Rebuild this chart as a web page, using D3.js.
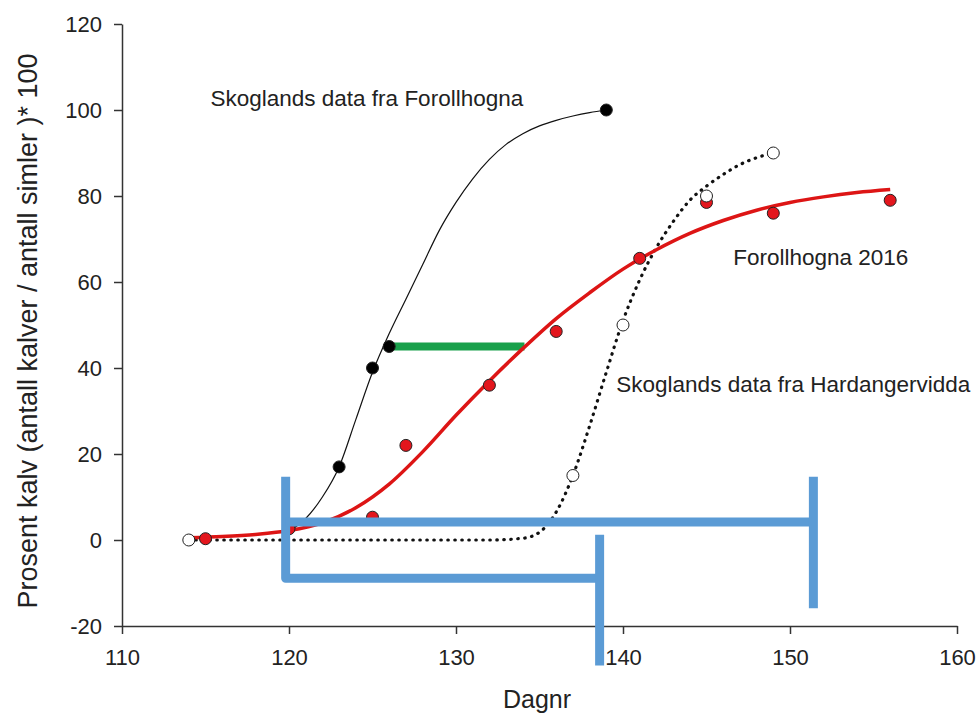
<!DOCTYPE html>
<html>
<head>
    <meta charset="utf-8">
    <title>Kalvingsforløp</title>
    <script src="https://d3js.org/d3.v7.min.js"></script>
    <style>
        body { margin: 0; background: #fff; }
        text { font-family: Arial, "Liberation Sans", sans-serif; fill: #222; }
        .axis path, .axis line { stroke: #333; stroke-width: 1.5; }
    </style>
</head>
<body>
    <div id="chart"></div>

    <script>
        // observed points (day number, percent)
        const forollhognaOld = [[123, 17], [125, 40], [126, 45], [139, 100]];
        const forollhogna2016 = [[115, 0.3], [120, 2.6], [125, 5.3], [127, 22], [132, 36], [136, 48.5],
                                 [141, 65.5], [145, 78.5], [149, 76], [156, 79]];
        const hardangervidda = [[114, 0], [137, 15], [140, 50], [145, 80], [149, 90]];

        // fitted curves
        const curveOld = [[120, 2], [121, 5], [122, 10], [123, 17], [124, 28], [125, 39], [126, 48],
                          [127, 56], [128, 64], [129, 72], [130, 78.5], [131, 84], [132, 88.5], [133, 92],
                          [134, 94.5], [135, 96.3], [136, 97.6], [137, 98.6], [138, 99.4], [139, 100]];
        const curve2016 = [[114, 0.5], [116, 0.8], [118, 1.3], [120, 2.2], [122, 4], [124, 7.5], [126, 13],
                           [128, 20.5], [130, 29], [132, 37], [134, 44.5], [136, 51.5], [138, 57.5], [140, 63],
                           [142, 67.5], [144, 71.3], [146, 74.3], [148, 76.7], [150, 78.5], [152, 79.8],
                           [154, 80.8], [156, 81.5]];
        const curveHard = [[114, 0], [120, 0], [126, 0], [132, 0], [134, 0.4], [135, 1.8], [136, 6.5],
                           [137, 15], [138, 26.5], [139, 39], [140, 51], [141, 60.5], [142, 68], [143, 74],
                           [144, 79], [145, 82.3], [146, 85], [147, 87.3], [148, 88.9], [149, 90]];

        // annotation bars
        const greenBar = [[125.7, 45], [134.1, 45]];
        const blueBars = [
            [[119.8, 14.7], [119.8, -8.9], [138.6, -8.9]],
            [[119.8, 4.2], [151.4, 4.2]],
            [[151.4, 14.7], [151.4, -15.9]],
            [[138.6, 1.2], [138.6, -29.2]]
        ];

        const labels = [
            { text: "Skoglands data fra Forollhogna", x: 115.3, y: 101 },
            { text: "Forollhogna 2016", x: 146.6, y: 64 },
            { text: "Skoglands data fra Hardangervidda", x: 139.6, y: 34.5 }
        ];

        const xTicks = [110, 120, 130, 140, 150, 160];
        const yTicks = [-20, 0, 20, 40, 60, 80, 100, 120];

        const width = 977, height = 722;
        const margin = { top: 24, right: 20, bottom: 96, left: 122 };

        const svg = d3.select("#chart").append("svg")
            .attr("width", width)
            .attr("height", height);

        const x = d3.scaleLinear().domain([110, 160]).range([margin.left, 957]);
        const y = d3.scaleLinear().domain([-20, 120]).range([height - margin.bottom, margin.top]);

        // axes
        svg.append("g")
            .attr("class", "axis")
            .attr("transform", `translate(0,${y(-20)})`)
            .call(d3.axisBottom(x).tickValues(xTicks).tickSize(8).tickPadding(15).tickSizeOuter(0))
            .call(g => g.selectAll("text").style("font-size", "22px").attr("fill", "#222"));

        svg.append("g")
            .attr("class", "axis")
            .attr("transform", `translate(${x(110)},0)`)
            .call(d3.axisLeft(y).tickValues(yTicks).tickFormat(d => String(d))
                .tickSize(8).tickPadding(12).tickSizeOuter(0))
            .call(g => g.selectAll("text").style("font-size", "22px").attr("fill", "#222"));

        svg.append("text")
            .attr("x", 537)
            .attr("y", 708)
            .attr("text-anchor", "middle")
            .style("font-size", "25px")
            .text("Dagnr");

        svg.append("text")
            .attr("transform", "translate(37,331) rotate(-90)")
            .attr("text-anchor", "middle")
            .style("font-size", "27px")
            .text("Prosent kalv (antall kalver / antall simler )* 100");

        const line = d3.line()
            .x(d => x(d[0]))
            .y(d => y(d[1]))
            .curve(d3.curveMonotoneX);

        // green bar
        svg.append("path")
            .attr("d", d3.line().x(d => x(d[0])).y(d => y(d[1]))(greenBar))
            .attr("stroke", "#19a04b")
            .attr("stroke-width", 8)
            .attr("fill", "none");

        // fitted curves
        svg.append("path")
            .attr("d", line(curveOld))
            .attr("stroke", "#111")
            .attr("stroke-width", 1.2)
            .attr("fill", "none");

        svg.append("path")
            .attr("d", line(curveHard))
            .attr("stroke", "#111")
            .attr("stroke-width", 3.2)
            .attr("stroke-linecap", "round")
            .attr("stroke-dasharray", "0.5 6.5")
            .attr("fill", "none");

        svg.append("path")
            .attr("d", line(curve2016))
            .attr("stroke", "#dd1515")
            .attr("stroke-width", 3.5)
            .attr("fill", "none");

        // points
        function dots(data, fill) {
            svg.append("g").selectAll("circle")
                .data(data)
                .join("circle")
                .attr("cx", d => x(d[0]))
                .attr("cy", d => y(d[1]))
                .attr("r", 6)
                .attr("fill", fill)
                .attr("stroke", "#222")
                .attr("stroke-width", 1);
        }
        dots(forollhognaOld, "#000");
        dots(forollhogna2016, "#e3161d");
        dots(hardangervidda, "#fff");

        // blue brackets
        svg.append("g").selectAll("path")
            .data(blueBars)
            .join("path")
            .attr("d", d3.line().x(d => x(d[0])).y(d => y(d[1])))
            .attr("stroke", "#5b9bd5")
            .attr("stroke-width", 9)
            .attr("stroke-linejoin", "round")
            .attr("fill", "none");

        // annotations
        svg.append("g").selectAll("text")
            .data(labels)
            .join("text")
            .attr("x", d => x(d.x))
            .attr("y", d => y(d.y))
            .style("font-size", "22.5px")
            .text(d => d.text);
    </script>
</body>
</html>
